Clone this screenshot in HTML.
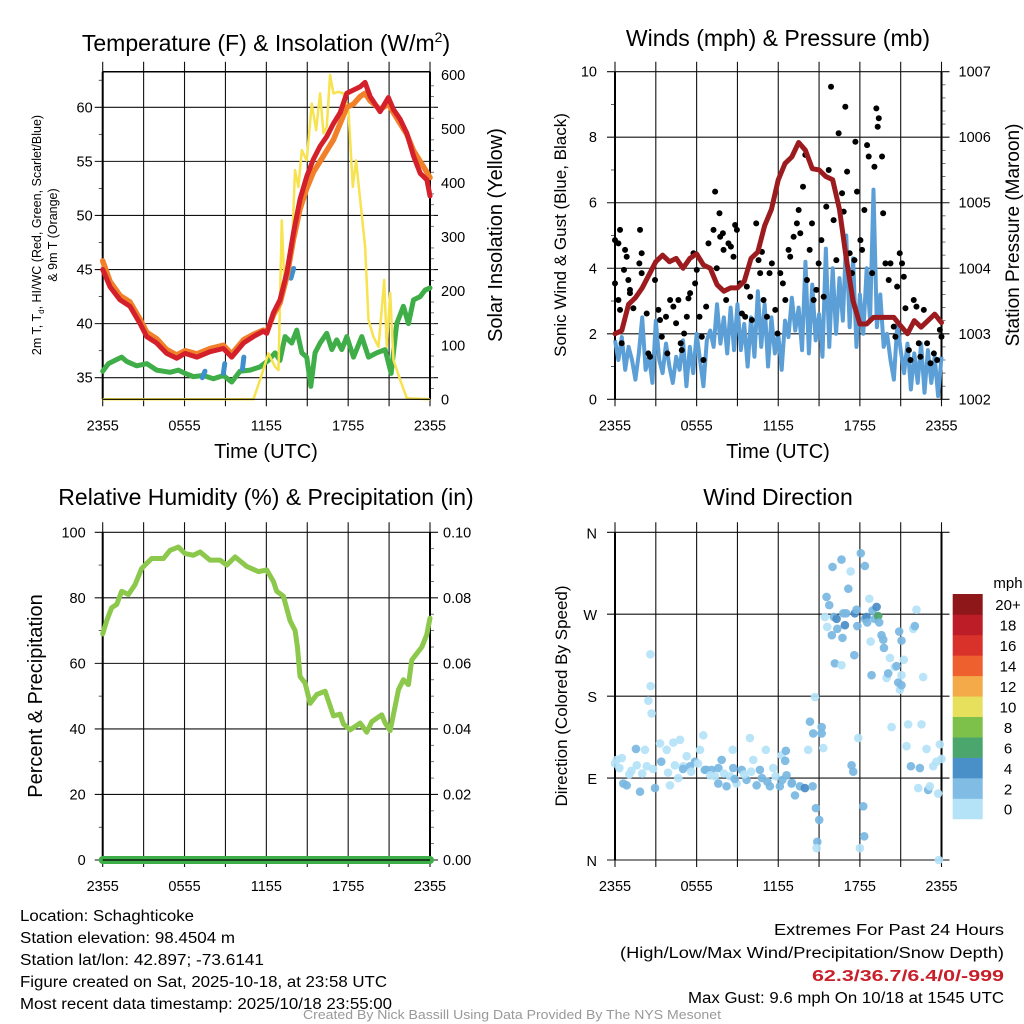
<!DOCTYPE html>
<html><head><meta charset="utf-8"><style>
html,body{margin:0;padding:0;background:#fff;}
svg{display:block;font-family:"Liberation Sans",sans-serif;}
</style></head><body>
<svg id="fig" width="1024" height="1024" viewBox="0 0 1024 1024" xmlns="http://www.w3.org/2000/svg">
<rect width="1024" height="1024" fill="#fff"/>
<g id="g1"></g>
<g id="g2"></g>
<g id="g3"></g>
<g id="g4"></g>

<text x="266" y="51" font-size="23" text-anchor="middle">Temperature (F) &amp; Insolation (W/m<tspan font-size="14" dy="-9">2</tspan><tspan dy="9">)</tspan></text>
<text x="778" y="46" font-size="23" text-anchor="middle">Winds (mph) &amp; Pressure (mb)</text>
<text x="266" y="505" font-size="23" text-anchor="middle">Relative Humidity (%) &amp; Precipitation (in)</text>
<text x="778" y="505" font-size="23" text-anchor="middle">Wind Direction</text>

<text x="266" y="458" font-size="20" text-anchor="middle">Time (UTC)</text>
<text x="778" y="458" font-size="20" text-anchor="middle">Time (UTC)</text>

<g font-size="12.5" text-anchor="middle">
<text transform="translate(41,235) rotate(-90)">2m T, T<tspan font-size="8" dy="3">d</tspan><tspan dy="-3">, HI/WC (Red, Green, Scarlet/Blue)</tspan></text>
<text transform="translate(57,235) rotate(-90)">&amp; 9m T (Orange)</text>
</g>
<text transform="translate(502,235) rotate(-90)" font-size="20" text-anchor="middle">Solar Insolation (Yellow)</text>
<text transform="translate(566,235) rotate(-90)" font-size="17" text-anchor="middle">Sonic Wind &amp; Gust (Blue, Black)</text>
<text transform="translate(1019,235) rotate(-90)" font-size="19" text-anchor="middle">Station Pressure (Maroon)</text>
<text transform="translate(42,696) rotate(-90)" font-size="20" text-anchor="middle">Percent &amp; Precipitation</text>
<text transform="translate(567,696) rotate(-90)" font-size="17" text-anchor="middle">Direction (Colored By Speed)</text>

<g font-size="15.5">
<text x="20" y="921" textLength="174" lengthAdjust="spacingAndGlyphs">Location: Schaghticoke</text>
<text x="20" y="943" textLength="215" lengthAdjust="spacingAndGlyphs">Station elevation: 98.4504 m</text>
<text x="20" y="965" textLength="244" lengthAdjust="spacingAndGlyphs">Station lat/lon: 42.897; -73.6141</text>
<text x="20" y="987" textLength="367" lengthAdjust="spacingAndGlyphs">Figure created on Sat, 2025-10-18, at 23:58 UTC</text>
<text x="20" y="1009" textLength="372" lengthAdjust="spacingAndGlyphs">Most recent data timestamp: 2025/10/18 23:55:00</text>
</g>
<g font-size="15.5" text-anchor="end">
<text x="1004" y="935" textLength="230" lengthAdjust="spacingAndGlyphs">Extremes For Past 24 Hours</text>
<text x="1004" y="958" textLength="384" lengthAdjust="spacingAndGlyphs">(High/Low/Max Wind/Precipitation/Snow Depth)</text>
<text x="1004" y="981" fill="#c8202a" font-weight="bold" textLength="192" lengthAdjust="spacingAndGlyphs">62.3/36.7/6.4/0/-999</text>
<text x="1004" y="1003" textLength="316" lengthAdjust="spacingAndGlyphs">Max Gust: 9.6 mph On 10/18 at 1545 UTC</text>
</g>
<text x="512" y="1019" font-size="12.5" fill="#999" text-anchor="middle" textLength="418" lengthAdjust="spacingAndGlyphs">Created By Nick Bassill Using Data Provided By The NYS Mesonet</text>
</svg>
<script>
// ---------- DATA ----------
const xTickHours=[0,6,12,18,24];
const xTickLabels=["2355","0555","1155","1755","2355"];
// Temperature (2m, red)
const tempHours=[0,0.54,1.27,2.0,2.74,3.23,3.96,4.69,5.43,6.04,6.9,7.87,8.85,9.46,10.32,11.05,11.78,12.03,12.52,13.0,13.5,13.99,14.47,14.96,15.45,15.94,16.43,16.92,17.41,17.9,18.39,18.88,19.24,19.61,20.34,20.95,21.32,21.81,22.3,22.79,23.28,23.77,24];
const tempValues=[45,43.4,42.2,41.6,40,38.8,38.2,37.25,36.8,37.25,36.9,37.4,37.7,36.9,38.2,38.8,39.3,39.1,41.0,42.2,44.7,48.4,51.5,53.6,55.2,56.4,57.3,58.5,59.5,61.3,61.6,61.9,62.3,61.0,59.6,60.9,59.8,58.9,57.6,55.5,53.9,53.3,51.8];
// 9m temperature (orange)
const temp9Values=[45.8,43.9,42.6,42.0,40.4,39.2,38.6,37.6,37.1,37.5,37.2,37.7,38.0,37.2,38.5,39.0,39.4,39.2,40.8,41.9,44.3,47.8,50.6,52.5,54.0,55.0,56.0,57.0,58.5,60.0,60.3,61.0,61.3,60.6,59.8,60.3,59.5,58.5,57.5,56.0,55.0,54.0,53.5];
// Dewpoint (green)
const dewHours=[0,0.42,0.9,1.39,1.76,2.49,3.23,3.96,4.94,5.55,6.04,6.65,7.38,8.12,8.85,9.46,10.07,10.81,11.54,12.15,12.64,13.0,13.37,13.86,14.23,14.6,14.96,15.26,15.57,15.94,16.43,16.8,17.16,17.53,17.9,18.39,19.0,19.49,20.1,20.71,21.15,21.56,22.05,22.42,22.79,23.28,23.64,24];
const dewValues=[35.6,36.3,36.6,36.9,36.5,36.1,36.3,35.7,35.5,35.7,35.4,35.1,35.2,34.9,35.2,34.6,35.6,35.7,36.0,36.6,37.3,36.6,38.8,38.2,39.4,37.3,36.9,34.2,37.3,38.2,39.1,37.6,38.5,37.6,38.8,36.9,38.8,36.9,37.3,37.6,35.4,40.0,41.6,40.0,42.2,42.5,43.1,43.3];
// Wind chill segments (blue): start hour, end hour, start value, end value
const chillStartH=[7.3,8.85,10.25,13.8];
const chillEndH=[7.5,8.95,10.35,14.0];
const chillStartV=[35.0,35.4,35.8,44.2];
const chillEndV=[35.6,36.3,36.9,45.1];
// Solar insolation (yellow)
const solarHours=[0,11.05,11.54,12.15,12.64,12.89,13.13,13.3,13.6,13.86,14.1,14.35,14.6,14.96,15.33,15.65,15.94,16.19,16.43,16.67,16.92,17.29,17.65,18.02,18.34,18.58,18.88,19.24,19.49,19.85,20.22,20.46,20.64,20.83,21.08,21.32,21.81,22.3,24];
const solarValues=[0,0,36,85,60,54,331,227,227,264,424,393,461,442,547,498,566,492,504,600,566,569,566,535,393,442,369,283,147,116,97,165,221,97,197,73,36,2,0];
// Sonic wind (blue), every 0.25 h
const windValues=[1.8,1.2,1.9,0.9,1.6,1.2,0.6,1.4,2.5,0.9,1.3,0.5,2.4,1.2,0.8,1.7,1.0,0.5,1.3,0.9,1.8,0.4,1.6,0.8,2.0,1.2,0.4,1.8,2.1,1.6,2.9,1.7,2.5,1.4,2.8,1.5,2.9,1.5,2.3,1.0,2.5,1.3,3.3,1.6,2.9,1.0,2.5,1.4,2.0,0.9,2.4,1.9,3.1,2.1,2.8,1.5,4.2,1.4,3.5,1.8,2.6,1.3,4.6,1.6,4.0,2.0,3.7,2.4,5.0,2.2,4.3,1.6,3.2,2.0,4.0,2.4,6.4,2.2,3.2,1.6,2.0,1.2,0.6,2.3,1.5,0.8,1.7,0.3,1.4,0.5,1.7,0.2,1.5,0.5,1.3,0.1,1.3];
// Gusts (black dots)
const gustHours=[0,0,0.25,0.37,0.25,0.37,0.49,0.74,0.86,0.66,0.98,1.1,1.1,1.35,1.84,1.96,1.79,1.96,2.33,2.45,2.58,2.94,3.19,3.31,3.44,3.75,3.85,4.05,4.29,4.49,4.66,4.83,4.91,5.08,5.28,5.4,5.52,5.77,5.89,6.01,6.21,6.38,6.5,6.7,6.87,7.24,7.36,7.48,7.68,7.73,7.93,7.98,8.17,8.34,8.52,8.71,8.83,8.96,9.2,9.33,9.57,9.69,9.94,10.06,10.38,10.55,10.67,10.8,10.92,11.17,11.36,11.53,11.78,11.95,12.15,12.34,12.52,12.76,12.88,13.13,13.37,13.5,13.62,13.82,13.99,14.11,14.31,14.48,14.6,14.8,14.97,15.17,15.34,15.53,15.71,15.88,16.07,16.27,16.44,16.69,16.81,16.93,17.06,17.25,17.42,17.6,17.67,17.79,18.04,18.16,18.33,18.53,18.65,18.9,19.07,19.21,19.31,19.39,19.63,19.71,19.88,20.12,20.25,20.49,20.61,20.74,20.93,21.1,21.23,21.35,21.6,21.72,21.96,22.16,22.33,22.45,22.7,22.94,23.19,23.44,23.68,23.88,24];
const gustValues=[4.86,3.54,3.03,5.17,4.76,2.73,1.71,4.56,4.35,3.95,3.64,3.34,3.24,2.78,5.17,4.46,4.15,3.85,2.62,1.4,1.3,3.64,2.73,2.42,1.91,2.52,1.4,3.03,2.83,2.32,3.03,1.71,1.5,2.01,2.52,3.08,3.24,4.46,3.54,3.95,2.52,1.91,1.2,2.83,4.76,5.17,6.34,4.0,5.68,4.96,5.07,4.56,3.03,4.76,4.66,4.35,5.32,5.17,3.54,2.62,2.52,3.44,3.13,2.42,5.37,4.25,3.85,4.5,3.03,2.52,3.85,4.15,2.73,2.01,3.85,3.54,3.03,4.56,4.35,4.96,5.37,5.78,5.07,6.49,7.46,3.64,4.56,5.37,3.03,3.34,4.15,4.86,3.13,5.88,7.0,9.54,5.47,4.25,8.12,6.29,5.73,8.93,6.95,4.46,3.85,4.25,7.86,6.34,4.86,4.56,5.78,7.76,7.41,3.85,7.1,8.88,8.32,8.58,7.41,5.68,4.15,3.64,4.15,2.22,1.91,3.44,4.46,4.15,3.74,2.78,1.5,1.2,3.03,2.83,1.71,1.3,2.73,1.71,1.1,1.4,1.2,2.12,1.91];
// Pressure (mb, maroon)
const presHours=[0,0.5,1,1.5,2,2.5,3,3.5,4,4.5,5,5.5,6,6.5,7,7.5,8,8.5,9,9.5,10,10.5,11,11.5,12,12.5,13,13.5,14,14.5,15,15.5,16,16.5,17,17.5,18,18.5,19,19.5,20,20.5,21,21.5,22,22.5,23,23.5,24];
const presValues=[1003.0,1003.05,1003.45,1003.55,1003.7,1003.9,1004.1,1004.2,1004.1,1004.15,1004.0,1004.15,1004.22,1004.05,1004.0,1003.75,1003.65,1003.7,1003.7,1003.8,1004.15,1004.25,1004.65,1004.9,1005.35,1005.6,1005.7,1005.92,1005.8,1005.52,1005.5,1005.4,1005.35,1004.9,1004.15,1003.5,1003.15,1003.15,1003.25,1003.25,1003.25,1003.25,1003.12,1003.0,1003.2,1003.1,1003.2,1003.3,1003.17];
// Relative humidity
const rhHours=[0,0.29,0.66,1.03,1.39,1.88,2.37,2.86,3.59,4.45,4.94,5.55,6.04,6.65,7.14,7.87,8.61,9.1,9.71,10.56,11.42,12.03,12.52,12.76,13.25,13.74,14.11,14.28,14.47,14.84,15.21,15.7,16.31,16.92,17.41,17.65,18.14,18.88,19.36,19.73,20.46,20.71,21.08,21.69,22.05,22.42,22.66,23.03,23.4,23.76,24];
const rhValues=[69,73,77,78,82,81,84,89,92,92,94.5,95.5,93.5,93,94,91.5,91.5,90,92.5,89.6,88,88.5,85,82,80.5,73,70,65,56,54,47.8,50.5,51.5,44,44.5,41.5,39.7,41.8,39,42.2,44.3,41.8,39.5,52,55,53.5,61,63,65,68.7,73.8];
// Precipitation (in)
const precipHours=[0,24];
const precipValues=[0,0];
// Wind direction scatter
const dirHours=[0,0.12,0.32,0.61,0.86,1.05,1.54,1.84,2.2,2.33,2.6,2.62,2.45,2.69,2.94,3.31,3.8,4.04,4.29,4.78,4.65,5.02,5.27,5.51,5.88,6.25,6.49,6.74,7.1,7.35,7.59,7.84,8.2,8.45,8.69,8.65,8.94,9.31,9.67,9.92,10.16,10.41,10.65,11.09,11.39,11.63,12.12,12.25,12.56,12.51,12.61,12.98,13.23,13.59,13.96,14.2,14.33,14.57,14.53,14.7,14.77,15.01,14.87,14.82,15.19,15.19,15.31,15.43,15.55,15.6,15.75,15.94,15.99,16.16,16.09,16.29,16.34,16.65,16.65,16.72,16.78,16.9,17.0,17.15,17.32,17.39,17.51,17.59,17.63,17.76,17.81,17.88,18.0,18.07,18.25,18.32,18.37,18.37,18.49,18.54,18.69,18.79,18.86,18.93,19.1,19.23,19.35,19.42,19.59,19.72,19.77,19.96,20.08,20.21,20.33,20.57,20.7,20.82,20.89,21.06,20.94,21.06,21.23,21.06,21.43,21.55,21.75,21.92,22.04,22.16,22.29,22.41,22.53,22.65,22.9,23.02,23.14,23.39,23.63,23.88,24.0,23.75,23.8,0.5,1.2,1.6,2.0,2.8,3.4,3.9,4.4,5.0,5.6,6.1,6.6,7.0,7.6,8.0,8.8,9.5,10.0,10.8,11.2,11.8,12.3,13.0];
const dirValues=[106,110,101,84,82,94,122,75,121,103,226,191,175,161,79,128,121,82,129,132,90,103,114,103,108,121,137,99,99,92,84,110,81,92,101,121,84,99,88,134,110,82,99,121,81,101,81,115,120,109,93,84,71,81,79,121,152,139,81,179,57,44,20,13,146,139,123,267,289,256,280,247,322,216,267,265,254,330,214,244,271,258,271,298,317,104,97,225,271,275,257,134,13,337,59,26,323,265,267,261,287,240,203,274,265,278,268,261,247,242,233,200,205,222,146,212,213,195,251,203,187,192,220,241,125,149,103,254,257,275,79,101,149,201,122,77,81,103,108,127,111,73,0,112,98,104,95,100,108,96,104,100,97,106,99,93,101,95,89,94,97,90,86,92,88,85];
const dirSpeedClass=[0,0,0,1,1,0,1,1,0,0,0,0,0,0,1,0,0,0,0,0,0,0,0,1,1,0,0,1,1,0,1,1,1,0,1,0,0,1,1,0,0,1,1,0,1,0,1,0,1,1,1,1,1,1,2,0,1,1,1,0,1,1,1,0,1,1,0,0,1,0,1,1,1,1,1,2,1,1,0,1,1,2,1,1,0,1,1,1,2,1,1,0,0,1,1,1,1,1,2,1,0,0,1,1,1,2,3,1,1,1,1,0,1,0,0,0,1,1,1,0,0,1,0,1,0,0,1,0,1,0,0,1,0,0,0,1,0,0,0,0,0,0,0,0,0,0,0,0,1,0,0,1,0,0,1,0,1,0,1,0,0,1,1,0,1,1];
const cbLabels=["0","2","4","6","8","10","12","14","16","18","20+"];
const cbColors=["#b4e2f7","#80bce4","#4a90c8","#4aa66c","#7dc14a","#e6e05c","#f5aa4a","#ee612e","#d9322b","#bd1d27","#8e1719"];
const dirColors=["#b4e2f7","#7ab7e2","#4a8cc6","#4aa66c"];

// ---------- HELPERS ----------
const NS="http://www.w3.org/2000/svg";
function mk(parent,tag,attrs){const e=document.createElementNS(NS,tag);for(const k in attrs)e.setAttribute(k,attrs[k]);parent.appendChild(e);return e;}
function txt(parent,x,y,s,size,anchor){const t=mk(parent,"text",{x:x,y:y,"font-size":size,"text-anchor":anchor});t.textContent=s;return t;}
function linearScale(d0,d1,r0,r1){return v=>r0+(v-d0)/(d1-d0)*(r1-r0);}
function pathFrom(xs,ys,fx,fy){return xs.map((h,i)=>(i?"L":"M")+fx(h).toFixed(2)+","+fy(ys[i]).toFixed(2)).join("");}

function frame(g,L,R,T,B,hTicksY,minorY,rightMinor){
  // vertical grid (every 3h)
  const fx=linearScale(0,24,L,R);
  for(let h=0;h<=24;h+=3){
    const ln=mk(g,"line",{x1:fx(h),x2:fx(h),y1:T-10,y2:B+7,stroke:"#111","stroke-width":1.1});
    
    
  }
  hTicksY.forEach(y=>{
    const ln=mk(g,"line",{x1:L-8,x2:R+8,y1:y,y2:y,stroke:"#111","stroke-width":1.1});
    
    
  });
  minorY.forEach(y=>{mk(g,"line",{x1:L-4,x2:L,y1:y,y2:y,stroke:"#333","stroke-width":0.8});});
  rightMinor.forEach(y=>{mk(g,"line",{x1:R,x2:R+4,y1:y,y2:y,stroke:"#555","stroke-width":0.8});});
  mk(g,"line",{x1:L,x2:L,y1:T,y2:B,stroke:"#000","stroke-width":2});
  mk(g,"line",{x1:R,x2:R,y1:T,y2:B,stroke:"#000","stroke-width":2});
  xTickHours.forEach((h,i)=>{
    const t=txt(g,fx(h),B+31,xTickLabels[i],14.5,"middle");
    
    
  });
  return fx;
}

// ---------- PANEL 1: temperature ----------
(function(){
  const g=document.getElementById("g1");
  const L=102.7,R=430,T=71.7,B=399.3;
  const fy=linearScale(35,60,377.7,107.3);
  const fs=linearScale(0,600,399.3,75);
  const tT=[35,40,45,50,55,60];
  const minor=[];for(let v=35;v<=62.5;v+=2.5)if(v%5)minor.push(fy(v));
  const rMinor=[];for(let v=20;v<=600;v+=20)if(v%100)rMinor.push(fs(v));
  const fx=frame(g,L,R,T,B,tT.map(fy),minor,rMinor);
  mk(g,"line",{x1:L,x2:R,y1:T,y2:T,stroke:"#000","stroke-width":1.5});
  tT.forEach(v=>{const t=txt(g,L-10,fy(v)+5,String(v),14.5,"end");
    });
  [0,100,200,300,400,500,600].forEach(v=>{const t=txt(g,R+11,fs(v)+5,String(v),14.5,"start");
    });
  const dew=mk(g,"path",{d:pathFrom(dewHours,dewValues,fx,fy),fill:"none",stroke:"#3fae49","stroke-width":5,"stroke-linejoin":"round","stroke-linecap":"round"});
  
  chillStartH.forEach((h,i)=>{
    const s=mk(g,"line",{x1:fx(h),y1:fy(chillStartV[i]),x2:fx(chillEndH[i]),y2:fy(chillEndV[i]),stroke:"#3e8fce","stroke-width":5,"stroke-linecap":"round"});
    
  });
  const sol=mk(g,"path",{d:pathFrom(solarHours,solarValues,fx,fs),fill:"none",stroke:"#f7e24f","stroke-width":2.5,"stroke-linejoin":"round"});
  
  const o=mk(g,"path",{d:pathFrom(tempHours,temp9Values,fx,fy),fill:"none",stroke:"#f0802a","stroke-width":5.5,"stroke-linejoin":"round","stroke-linecap":"round"});
  
  const r=mk(g,"path",{d:pathFrom(tempHours,tempValues,fx,fy),fill:"none",stroke:"#d4202a","stroke-width":5,"stroke-linejoin":"round","stroke-linecap":"round"});
  
  mk(g,"line",{x1:L,x2:R,y1:B,y2:B,stroke:"#000","stroke-width":1.2});
})();

// ---------- PANEL 2: wind & pressure ----------
(function(){
  const g=document.getElementById("g2");
  const L=615,R=941.5,T=71.7,B=399.3;
  const fy=linearScale(0,10,B,T);
  const fp=linearScale(1002,1007,B,T);
  const ticks=[0,2,4,6,8,10];
  const minor=[1,3,5,7,9].map(fy);
  const rMinor=[];for(let v=1002.2;v<1007;v+=0.2){if(Math.abs(v-Math.round(v))>0.05)rMinor.push(fp(v));}
  const fx=frame(g,L,R,T,B,ticks.map(fy),minor,rMinor);
  ticks.forEach(v=>{const t=txt(g,L-18,fy(v)+5,String(v),14.5,"end");
    });
  [1002,1003,1004,1005,1006,1007].forEach(v=>{const t=txt(g,R+17,fp(v)+5,String(v),14.5,"start");
    });
  const wh=windValues.map((v,i)=>i*0.25);
  const w=mk(g,"path",{d:pathFrom(wh,windValues,fx,fy),fill:"none",stroke:"#5b9fd6","stroke-width":4,"stroke-linejoin":"round"});
  
  gustHours.forEach((h,i)=>{
    const c=mk(g,"circle",{cx:fx(h),cy:fy(gustValues[i]),r:3,fill:"#000"});
    
    
  });
  const p=mk(g,"path",{d:pathFrom(presHours,presValues,fx,fp),fill:"none",stroke:"#9b1b1e","stroke-width":5,"stroke-linejoin":"round","stroke-linecap":"round"});
  
})();

// ---------- PANEL 3: humidity ----------
(function(){
  const g=document.getElementById("g3");
  const L=102.7,R=430,T=532.3,B=860;
  const fy=linearScale(0,100,B,T);
  const fpr=linearScale(0,0.1,B,T);
  const ticks=[0,20,40,60,80,100];
  const minor=[10,30,50,70,90].map(fy);
  const rMinor=[];for(let v=5;v<100;v+=5)if(v%20)rMinor.push(fy(v));
  const fx=frame(g,L,R,T,B,ticks.map(fy),minor,rMinor);
  ticks.forEach(v=>{const t=txt(g,L-17,fy(v)+5,String(v),14.5,"end");
    });
  [0,0.02,0.04,0.06,0.08,0.1].forEach(v=>{const t=txt(g,R+13,fpr(v)+5,v.toFixed(2),14.5,"start");
    });
  const rh=mk(g,"path",{d:pathFrom(rhHours,rhValues,fx,fy),fill:"none",stroke:"#8cc84b","stroke-width":5,"stroke-linejoin":"round","stroke-linecap":"round"});
  
  const pr=mk(g,"path",{d:pathFrom(precipHours,precipValues,fx,fpr),fill:"none",stroke:"#3dae48","stroke-width":8,"stroke-linecap":"round"});
  
  mk(g,"line",{x1:L,x2:R,y1:B,y2:B,stroke:"#000","stroke-width":1.2});
})();

// ---------- PANEL 4: wind direction ----------
(function(){
  const g=document.getElementById("g4");
  const L=615,R=941.5,T=532.3,B=860;
  const fy=linearScale(0,360,B,T);
  const degs=[0,90,180,270,360];
  const fx=frame(g,L,R,T,B,degs.map(fy),[],[]);
  const names=["N","E","S","W","N"];
  degs.forEach((d,i)=>{const t=txt(g,597,fy(d)+6,names[i],14.5,"end");
    });
  dirHours.forEach((h,i)=>{
    const c=mk(g,"circle",{cx:fx(h),cy:fy(dirValues[i]),r:4.3,fill:dirColors[dirSpeedClass[i]],"fill-opacity":0.92});
    
    
  });
  // colorbar
  const cbT=594,cbH=20.45,cbX=952.7,cbW=30;
  const mph=txt(g,1008,588,"mph",15,"middle");
  
  cbLabels.forEach((lab,i)=>{
    const k=cbLabels.length-1-i;
    const rc=mk(g,"rect",{x:cbX,y:cbT+k*cbH,width:cbW,height:cbH+0.3,fill:cbColors[i]});
    
    
    const t=txt(g,1008,cbT+k*cbH+cbH/2+6,lab,15,"middle");
    
    
  });
})();
</script>
</body></html>
